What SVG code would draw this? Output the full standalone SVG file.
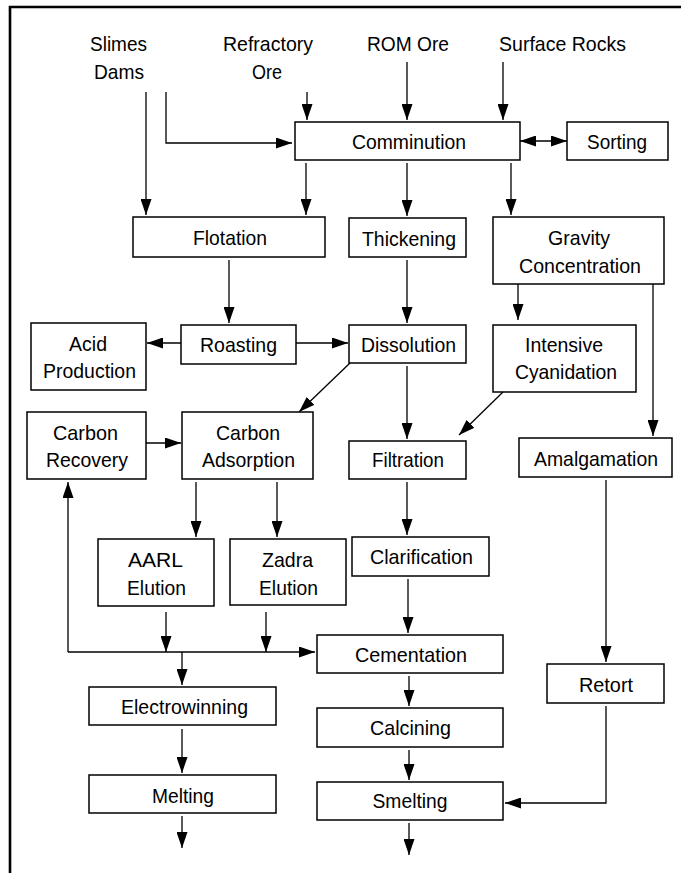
<svg xmlns="http://www.w3.org/2000/svg" width="681" height="873" viewBox="0 0 681 873">
<defs>
<marker id="ah" markerUnits="userSpaceOnUse" markerWidth="17" markerHeight="11" refX="16" refY="5.5" orient="auto-start-reverse">
<path d="M0,0 L16,5.5 L0,11 z" fill="#000"/>
</marker>
<style>
.box{fill:#fff;stroke:#000;stroke-width:1.5}
.t{font-family:"Liberation Sans",Arial,sans-serif;font-size:21px;fill:#000;text-anchor:middle}
.c{fill:none;stroke:#000;stroke-width:1.3}
.a{fill:none;stroke:#000;stroke-width:1.3;marker-end:url(#ah)}
</style>
</defs>
<rect width="681" height="873" fill="#fff"/>
<path d="M10,873 V7 H681" fill="none" stroke="#000" stroke-width="2.6"/>

<g id="sources">
<text class="t" x="118.5" y="51" textLength="57" lengthAdjust="spacingAndGlyphs">Slimes</text>
<text class="t" x="119" y="79" textLength="50" lengthAdjust="spacingAndGlyphs">Dams</text>
<text class="t" x="268" y="51" textLength="90" lengthAdjust="spacingAndGlyphs">Refractory</text>
<text class="t" x="267" y="79" textLength="30" lengthAdjust="spacingAndGlyphs">Ore</text>
<text class="t" x="408" y="51" textLength="82" lengthAdjust="spacingAndGlyphs">ROM Ore</text>
<text class="t" x="562.5" y="51" textLength="127" lengthAdjust="spacingAndGlyphs">Surface Rocks</text>
</g>

<g id="comminution"><rect class="box" x="295" y="122" width="225" height="38"/><text class="t" x="409" y="149" textLength="114" lengthAdjust="spacingAndGlyphs">Comminution</text></g>
<g id="sorting"><rect class="box" x="567" y="122" width="101" height="38"/><text class="t" x="617" y="149" textLength="60" lengthAdjust="spacingAndGlyphs">Sorting</text></g>
<g id="flotation"><rect class="box" x="133" y="217" width="192" height="40"/><text class="t" x="230" y="245" textLength="74" lengthAdjust="spacingAndGlyphs">Flotation</text></g>
<g id="thickening"><rect class="box" x="349" y="218" width="117" height="39"/><text class="t" x="409" y="246" textLength="94" lengthAdjust="spacingAndGlyphs">Thickening</text></g>
<g id="gravity"><rect class="box" x="493" y="217" width="171" height="67"/><text class="t" x="579" y="245" textLength="62" lengthAdjust="spacingAndGlyphs">Gravity</text><text class="t" x="580" y="273" textLength="122" lengthAdjust="spacingAndGlyphs">Concentration</text></g>
<g id="acid"><rect class="box" x="31" y="323" width="115" height="67"/><text class="t" x="88" y="351" textLength="38" lengthAdjust="spacingAndGlyphs">Acid</text><text class="t" x="89.5" y="378" textLength="93" lengthAdjust="spacingAndGlyphs">Production</text></g>
<g id="roasting"><rect class="box" x="181" y="325" width="115" height="39"/><text class="t" x="238.5" y="352" textLength="77" lengthAdjust="spacingAndGlyphs">Roasting</text></g>
<g id="dissolution"><rect class="box" x="349" y="325" width="117" height="38"/><text class="t" x="408.5" y="352" textLength="95" lengthAdjust="spacingAndGlyphs">Dissolution</text></g>
<g id="intensive"><rect class="box" x="493" y="325" width="143" height="67"/><text class="t" x="564" y="352" textLength="78" lengthAdjust="spacingAndGlyphs">Intensive</text><text class="t" x="566" y="379" textLength="102" lengthAdjust="spacingAndGlyphs">Cyanidation</text></g>
<g id="carbon-recovery"><rect class="box" x="27" y="412" width="119" height="67"/><text class="t" x="85.5" y="440" textLength="65" lengthAdjust="spacingAndGlyphs">Carbon</text><text class="t" x="87" y="467" textLength="82" lengthAdjust="spacingAndGlyphs">Recovery</text></g>
<g id="carbon-adsorption"><rect class="box" x="182" y="412" width="131" height="67"/><text class="t" x="248" y="440" textLength="64" lengthAdjust="spacingAndGlyphs">Carbon</text><text class="t" x="248.5" y="467" textLength="93" lengthAdjust="spacingAndGlyphs">Adsorption</text></g>
<g id="filtration"><rect class="box" x="349" y="441" width="117" height="38"/><text class="t" x="408" y="467" textLength="72" lengthAdjust="spacingAndGlyphs">Filtration</text></g>
<g id="amalgamation"><rect class="box" x="519" y="438" width="153" height="39"/><text class="t" x="596" y="466" textLength="124" lengthAdjust="spacingAndGlyphs">Amalgamation</text></g>
<g id="aarl"><rect class="box" x="98" y="539" width="116" height="67"/><text class="t" x="155.5" y="567" textLength="55" lengthAdjust="spacingAndGlyphs">AARL</text><text class="t" x="156.5" y="595" textLength="59" lengthAdjust="spacingAndGlyphs">Elution</text></g>
<g id="zadra"><rect class="box" x="230" y="539" width="116" height="66"/><text class="t" x="287.5" y="567" textLength="51" lengthAdjust="spacingAndGlyphs">Zadra</text><text class="t" x="288.5" y="595" textLength="59" lengthAdjust="spacingAndGlyphs">Elution</text></g>
<g id="clarification"><rect class="box" x="352" y="537" width="137" height="39"/><text class="t" x="421.5" y="564" textLength="103" lengthAdjust="spacingAndGlyphs">Clarification</text></g>
<g id="cementation"><rect class="box" x="317" y="635" width="186" height="38"/><text class="t" x="411" y="662" textLength="112" lengthAdjust="spacingAndGlyphs">Cementation</text></g>
<g id="retort"><rect class="box" x="547" y="664" width="117" height="39"/><text class="t" x="606" y="692" textLength="54" lengthAdjust="spacingAndGlyphs">Retort</text></g>
<g id="calcining"><rect class="box" x="317" y="708" width="186" height="39"/><text class="t" x="410.5" y="735" textLength="81" lengthAdjust="spacingAndGlyphs">Calcining</text></g>
<g id="smelting"><rect class="box" x="317" y="782" width="186" height="38"/><text class="t" x="410" y="808" textLength="75" lengthAdjust="spacingAndGlyphs">Smelting</text></g>
<g id="electrowinning"><rect class="box" x="89" y="687" width="187" height="38"/><text class="t" x="184.5" y="714" textLength="127" lengthAdjust="spacingAndGlyphs">Electrowinning</text></g>
<g id="melting"><rect class="box" x="89" y="775" width="187" height="38"/><text class="t" x="183" y="803" textLength="62" lengthAdjust="spacingAndGlyphs">Melting</text></g>

<g id="connectors">
<path class="a" d="M146,92 V215"/>
<path class="a" d="M166,92 V143 H292"/>
<path class="a" d="M307,92 V120"/>
<path class="a" d="M407,62 V120"/>
<path class="a" d="M503,62 V120"/>
<path class="c" d="M520,141 H567" style="marker-start:url(#ah);marker-end:url(#ah)"/>
<path class="a" d="M306,163 V215"/>
<path class="a" d="M407,163 V216"/>
<path class="a" d="M511,163 V215"/>
<path class="a" d="M229,260 V323"/>
<path class="a" d="M407,260 V323"/>
<path class="a" d="M518,284 V320"/>
<path class="a" d="M653,284 V436"/>
<path class="a" d="M181,343 H147"/>
<path class="a" d="M296,343 H348"/>
<path class="a" d="M350,363 L299,412"/>
<path class="a" d="M407,366 V439"/>
<path class="a" d="M503,392 L459,435"/>
<path class="a" d="M146,443 H181"/>
<path class="a" d="M196,482 V537"/>
<path class="a" d="M277,482 V537"/>
<path class="a" d="M407,482 V535"/>
<path class="a" d="M408,579 V633"/>
<path class="a" d="M606,480 V662"/>
<path class="a" d="M68,652 V482"/>
<path class="a" d="M68,652 H315"/>
<path class="a" d="M166,612 V652"/>
<path class="a" d="M266,612 V652"/>
<path class="a" d="M182,652 V685"/>
<path class="a" d="M409,676 V706"/>
<path class="a" d="M409,750 V780"/>
<path class="a" d="M606,706 V803 H505"/>
<path class="a" d="M409,823 V855"/>
<path class="a" d="M182,729 V773"/>
<path class="a" d="M182,816 V848"/>
</g>
</svg>
